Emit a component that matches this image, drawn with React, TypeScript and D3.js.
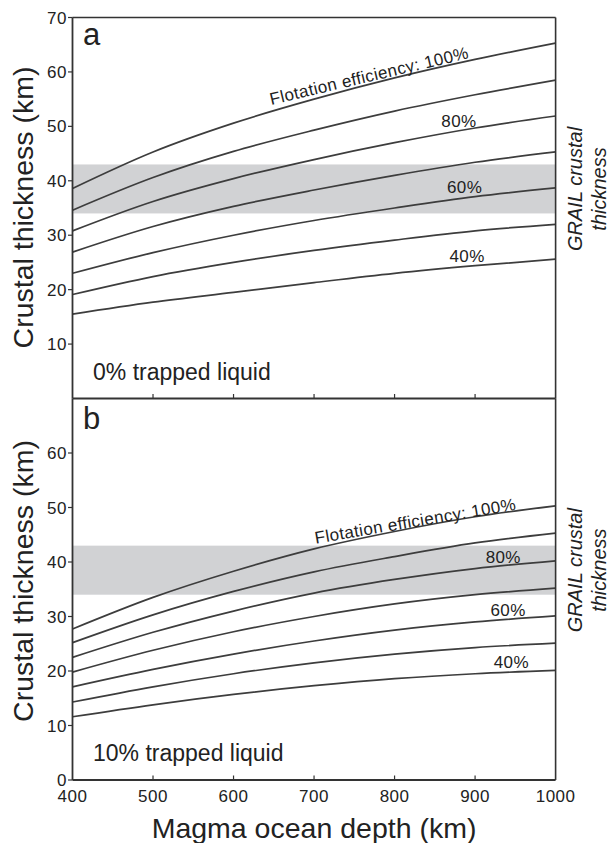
import React from "react";
import * as d3 from "d3";

// ---- data ----
const DEPTHS = [400, 500, 600, 700, 800, 900, 1000];
const EFFICIENCIES = [100, 90, 80, 70, 60, 50, 40];

// Panel a: 0% trapped liquid
const A100 = [38.6, 45.3, 50.6, 55.0, 58.9, 62.3, 65.3];
const A90 = [34.6, 40.6, 45.4, 49.3, 52.8, 55.8, 58.5];
const A80 = [30.8, 36.2, 40.4, 43.9, 47.0, 49.7, 51.9];
const A70 = [26.9, 31.6, 35.3, 38.3, 41.0, 43.4, 45.3];
const A60 = [23.0, 26.8, 30.0, 32.7, 35.0, 37.1, 38.7];
const A50 = [19.1, 22.4, 25.0, 27.2, 29.1, 30.8, 32.0];
const A40 = [15.5, 17.7, 19.5, 21.3, 23.0, 24.4, 25.6];

// Panel b: 10% trapped liquid
const B100 = [27.7, 33.5, 38.3, 42.4, 45.6, 48.3, 50.3];
const B90 = [25.2, 30.3, 34.6, 38.2, 41.0, 43.5, 45.3];
const B80 = [22.5, 27.1, 31.0, 34.3, 36.8, 38.8, 40.2];
const B70 = [19.8, 23.8, 27.2, 30.0, 32.3, 34.0, 35.2];
const B60 = [17.1, 20.3, 23.1, 25.5, 27.5, 29.0, 30.1];
const B50 = [14.3, 17.1, 19.5, 21.5, 23.1, 24.3, 25.1];
const B40 = [11.6, 13.8, 15.7, 17.3, 18.6, 19.5, 20.1];

const GRAIL_BAND = [34, 43];

const X_TICKS = [400, 500, 600, 700, 800, 900, 1000];
const Y_TICKS_A = [10, 20, 30, 40, 50, 60, 70];
const Y_TICKS_B = [0, 10, 20, 30, 40, 50, 60];

const PANEL_A_SERIES = [A100, A90, A80, A70, A60, A50, A40];
const PANEL_B_SERIES = [B100, B90, B80, B70, B60, B50, B40];

// ---- layout ----
const W = 609;
const H = 843;
const LEFT = 72.5;
const RIGHT = 555.6;
const FONT = "'Liberation Sans', Arial, Helvetica, sans-serif";
const LINE_COLOR = "#3d3d3d";
const AXIS_COLOR = "#333333";
const BAND_COLOR = "#d1d2d4";

const x = d3.scaleLinear().domain([400, 1000]).range([LEFT, RIGHT]);

type PanelCfg = {
  top: number;
  bottom: number;
  series: number[][];
  letter: string;
  letterY: number;
  trapped: string;
  trappedY: number;
  yTicks: number[];
  titleY: number;
  topLabel: { km: number; angle: number; gap: number };
  smallLabels: { idx: number; km: number; gap: number }[];
  showXLabels: boolean;
  drawTop: boolean;
};

const panels: PanelCfg[] = [
  {
    top: 17.5,
    bottom: 398.5,
    series: PANEL_A_SERIES,
    letter: "a",
    letterY: 45,
    trapped: "0% trapped liquid",
    trappedY: 380,
    yTicks: Y_TICKS_A,
    titleY: 207.5,
    topLabel: { km: 770, angle: -13.3, gap: 2.8 },
    smallLabels: [
      { idx: 2, km: 880, gap: 4 },
      { idx: 4, km: 887, gap: 5 },
      { idx: 6, km: 890, gap: 4 },
    ],
    showXLabels: false,
    drawTop: true,
  },
  {
    top: 398.5,
    bottom: 780,
    series: PANEL_B_SERIES,
    letter: "b",
    letterY: 429,
    trapped: "10% trapped liquid",
    trappedY: 760.5,
    yTicks: Y_TICKS_B,
    titleY: 581,
    topLabel: { km: 827, angle: -9.6, gap: 0.8 },
    smallLabels: [
      { idx: 2, km: 935, gap: 3 },
      { idx: 4, km: 941, gap: 3 },
      { idx: 6, km: 945, gap: 4 },
    ],
    showXLabels: true,
    drawTop: false,
  },
];

function Panel({ cfg }: { cfg: PanelCfg }) {
  const y = d3.scaleLinear().domain([0, 70]).range([cfg.bottom, cfg.top]);
  const line = d3
    .line<number>()
    .x((_, i) => x(DEPTHS[i]))
    .y((d) => y(d))
    .curve(d3.curveMonotoneX);
  const valueAt = (s: number[], km: number) =>
    d3.scaleLinear().domain(DEPTHS).range(s)(km);

  const tl = cfg.topLabel;
  const tlx = x(tl.km);
  const tly = y(valueAt(cfg.series[0], tl.km)) - tl.gap;
  const bandMid = y((GRAIL_BAND[0] + GRAIL_BAND[1]) / 2);

  return (
    <g>
      {/* GRAIL band */}
      <rect
        x={x(400)}
        width={x(1000) - x(400)}
        y={y(GRAIL_BAND[1])}
        height={y(GRAIL_BAND[0]) - y(GRAIL_BAND[1])}
        fill={BAND_COLOR}
      />
      {/* curves */}
      {cfg.series.map((s, i) => (
        <path
          key={EFFICIENCIES[i]}
          d={line(s) || ""}
          fill="none"
          stroke={LINE_COLOR}
          strokeWidth={1.7}
        />
      ))}
      {/* curve labels */}
      <text
        x={0}
        y={0}
        transform={`translate(${tlx},${tly}) rotate(${tl.angle})`}
        textAnchor="middle"
        fontSize={17}
        letterSpacing={0.4}
        fill="#222"
        fontFamily={FONT}
      >
        Flotation efficiency: {EFFICIENCIES[0]}%
      </text>
      {cfg.smallLabels.map((l) => (
        <text
          key={l.idx}
          x={x(l.km)}
          y={y(valueAt(cfg.series[l.idx], l.km)) - l.gap}
          textAnchor="middle"
          fontSize={17}
          letterSpacing={0.4}
          fill="#222"
          fontFamily={FONT}
        >
          {EFFICIENCIES[l.idx]}%
        </text>
      ))}
      {/* y ticks */}
      {cfg.yTicks.map((t) => (
        <g key={t}>
          <line
            x1={LEFT - 4.5}
            x2={LEFT}
            y1={y(t)}
            y2={y(t)}
            stroke={AXIS_COLOR}
            strokeWidth={1.2}
          />
          <text
            x={LEFT - 5.5}
            y={y(t)}
            dy="0.36em"
            textAnchor="end"
            fontSize={17}
            letterSpacing={0.5}
            fill="#222"
            fontFamily={FONT}
          >
            {t}
          </text>
        </g>
      ))}
      {/* inner x ticks */}
      {X_TICKS.slice(1, -1).map((t) => (
        <line
          key={t}
          x1={x(t)}
          x2={x(t)}
          y1={cfg.bottom}
          y2={cfg.bottom - 4.5}
          stroke={AXIS_COLOR}
          strokeWidth={1.2}
        />
      ))}
      {cfg.showXLabels &&
        X_TICKS.map((t) => (
          <text
            key={t}
            x={x(t)}
            y={802}
            textAnchor="middle"
            fontSize={17}
            letterSpacing={0.5}
            fill="#222"
            fontFamily={FONT}
          >
            {t}
          </text>
        ))}
      {/* frame */}
      <line x1={LEFT} x2={RIGHT} y1={cfg.bottom} y2={cfg.bottom} stroke={AXIS_COLOR} strokeWidth={2} />
      {cfg.drawTop && (
        <line x1={LEFT} x2={RIGHT} y1={cfg.top} y2={cfg.top} stroke={AXIS_COLOR} strokeWidth={1.6} />
      )}
      <line x1={LEFT} x2={LEFT} y1={cfg.top} y2={cfg.bottom} stroke={AXIS_COLOR} strokeWidth={1.8} />
      <line x1={RIGHT} x2={RIGHT} y1={cfg.top} y2={cfg.bottom} stroke={AXIS_COLOR} strokeWidth={1.6} />
      {/* panel letter */}
      <text x={83} y={cfg.letterY} fontSize={31} fill="#222" fontFamily={FONT}>
        {cfg.letter}
      </text>
      {/* trapped liquid */}
      <text x={93} y={cfg.trappedY} fontSize={23} fill="#222" fontFamily={FONT}>
        {cfg.trapped}
      </text>
      {/* y title */}
      <text
        transform={`translate(32.5,${cfg.titleY}) rotate(-90)`}
        textAnchor="middle"
        fontSize={28.5}
        fill="#222"
        fontFamily={FONT}
      >
        Crustal thickness (km)
      </text>
      {/* GRAIL label */}
      <text
        transform={`translate(582,${bandMid}) rotate(-90)`}
        textAnchor="middle"
        fontSize={20}
        fontStyle="italic"
        fill="#222"
        fontFamily={FONT}
      >
        GRAIL crustal
      </text>
      <text
        transform={`translate(606,${bandMid}) rotate(-90)`}
        textAnchor="middle"
        fontSize={20}
        fontStyle="italic"
        fill="#222"
        fontFamily={FONT}
      >
        thickness
      </text>
    </g>
  );
}

export default function App() {
  return (
    <svg
      width={W}
      height={H}
      style={{ position: "absolute", left: 0, top: 0, background: "#fff" }}
    >
      <rect width={W} height={H} fill="#fff" />
      {panels.map((p) => (
        <Panel key={p.letter} cfg={p} />
      ))}
      <text
        x={(LEFT + RIGHT) / 2}
        y={838}
        textAnchor="middle"
        fontSize={28.5}
        fill="#222"
        fontFamily={FONT}
      >
        Magma ocean depth (km)
      </text>
    </svg>
  );
}
